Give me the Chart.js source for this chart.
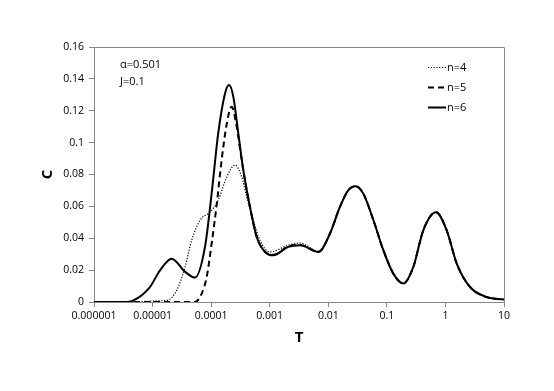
<!DOCTYPE html>
<html>
<head>
<meta charset="utf-8">
<script src="https://cdn.jsdelivr.net/npm/chart.js@4/dist/chart.umd.min.js"></script>
<style>
  html, body { margin: 0; padding: 0; background: #fff; }
  #wrap { width: 554px; height: 391px; }
</style>
</head>
<body>
<div id="wrap"><canvas id="grafico" width="554" height="391"></canvas></div>
<script>
// tick labels
const xTicks = [1e-6, 1e-5, 1e-4, 1e-3, 1e-2, 1e-1, 1, 10];
const xTickLabels = ['0.000001', '0.00001', '0.0001', '0.001', '0.01', '0.1', '1', '10'];
const yTicks = [0, 0.02, 0.04, 0.06, 0.08, 0.1, 0.12, 0.14, 0.16];
const yTickLabels = ['0', '0.02', '0.04', '0.06', '0.08', '0.1', '0.12', '0.14', '0.16'];

// n=4 (pontilhado)
const T4 = [1e-6, 1.74e-5, 2.58e-5, 3.58e-5, 4.66e-5, 6.46e-5, 9.6e-5, 1.32e-4, 1.85e-4, 2.55e-4,
            3.33e-4, 4.05e-4, 5.25e-4, 6.8e-4, 1.01e-3, 2.07e-3, 3.3e-3, 6.8e-3, 1.07e-2, 1.58e-2,
            2.2e-2, 2.94e-2, 3.96e-2, 5.9e-2, 8.7e-2, 0.129, 0.191, 0.283, 0.419, 0.69,
            1.05, 1.56, 2.63, 5.07, 10];
const C4 = [0, 0.001, 0.0073, 0.022, 0.0388, 0.0513, 0.0565, 0.0639, 0.0785, 0.0859,
            0.0785, 0.066, 0.0513, 0.0388, 0.0314, 0.0356, 0.037, 0.0318, 0.043, 0.0597,
            0.0702, 0.0727, 0.068, 0.0513, 0.0325, 0.0178, 0.0116, 0.022, 0.045, 0.0563,
            0.045, 0.0241, 0.0094, 0.0031, 0.0015];

// n=5 (tracejado)
const T5 = [1e-6, 5.3e-5, 6.9e-5, 8.4e-5, 1.02e-4, 1.25e-4, 1.51e-4, 1.85e-4, 2.24e-4, 2.73e-4,
            3.33e-4, 4.05e-4, 4.6e-4, 6.0e-4, 8.3e-4, 1.15e-3, 2.07e-3, 3.3e-3, 6.8e-3, 1.07e-2,
            1.58e-2, 2.2e-2, 2.94e-2, 3.96e-2, 5.9e-2, 8.7e-2, 0.129, 0.191, 0.283, 0.419,
            0.69, 1.05, 1.56, 2.63, 5.07, 10];
const C5 = [0, 0, 0.0053, 0.0157, 0.0367, 0.0618, 0.089, 0.112, 0.1225, 0.11,
            0.089, 0.0702, 0.0597, 0.0408, 0.0316, 0.0296, 0.0348, 0.0358, 0.0315, 0.043,
            0.0597, 0.0702, 0.0727, 0.068, 0.0513, 0.0325, 0.0178, 0.0116, 0.022, 0.045,
            0.0563, 0.045, 0.0241, 0.0094, 0.0031, 0.0015];

// n=6 (linha cheia)
const T6 = [1e-6, 3.16e-6, 4.7e-6, 9.0e-6, 1.34e-5, 2.12e-5, 3.6e-5, 5.3e-5, 7.85e-5, 1.02e-4,
            1.32e-4, 1.73e-4, 2.02e-4, 2.39e-4, 2.91e-4, 3.54e-4, 4.6e-4, 6.0e-4, 8.3e-4, 1.15e-3,
            2.07e-3, 3.3e-3, 6.8e-3, 1.07e-2, 1.58e-2, 2.2e-2, 2.94e-2, 3.96e-2, 5.9e-2, 8.7e-2,
            0.129, 0.191, 0.283, 0.419, 0.69, 1.05, 1.56, 2.63, 5.07, 10];
const C6 = [0, 0, 0.001, 0.0094, 0.0199, 0.0272, 0.0189, 0.0153, 0.0346, 0.068,
            0.1058, 0.131, 0.1361, 0.1288, 0.1058, 0.0827, 0.0597, 0.0408, 0.0314, 0.0293,
            0.0346, 0.0356, 0.0314, 0.043, 0.0597, 0.0702, 0.0727, 0.068, 0.0513, 0.0325,
            0.0178, 0.0116, 0.022, 0.045, 0.0563, 0.045, 0.0241, 0.0094, 0.0031, 0.0015];

const anotacoes = ['\u03b1=0.501', 'J=0.1'];

const fonte = "'Open Sans', 'Noto Sans', sans-serif";
const cinza = '#868686';

function pontos(xs, ys) {
    return xs.map((x, i) => ({ x: x, y: ys[i] }));
}

// borda da área do gráfico + textos + legenda
const extras = {
    id: 'extras',
    afterDraw(chart) {
        const { ctx, chartArea: a } = chart;
        ctx.save();
        ctx.strokeStyle = cinza;
        ctx.lineWidth = 1;
        ctx.beginPath();
        ctx.moveTo(a.left, a.top + 0.5);
        ctx.lineTo(a.right + 0.5, a.top + 0.5);
        ctx.lineTo(a.right + 0.5, a.bottom);
        ctx.stroke();

        ctx.fillStyle = '#000';
        ctx.font = "11px " + fonte;
        ctx.textBaseline = 'middle';
        ctx.textAlign = 'left';
        anotacoes.forEach((t, i) => ctx.fillText(t, a.left + 26, a.top + 18 + i * 16.5));

        chart.data.datasets.forEach((ds, i) => {
            const y = a.top + 20.5 + i * 20;
            ctx.beginPath();
            ctx.strokeStyle = '#000';
            ctx.lineWidth = ds.borderWidth;
            ctx.setLineDash(ds.borderDash || []);
            ctx.moveTo(a.right - 76, y);
            ctx.lineTo(a.right - 58, y);
            ctx.stroke();
            ctx.setLineDash([]);
            ctx.fillText(ds.label, a.right - 57, y);
        });
        ctx.restore();
    }
};

const ctx = document.getElementById('grafico').getContext('2d');
new Chart(ctx, {
    type: 'scatter',
    data: {
        datasets: [
            { label: 'n=4', data: pontos(T4, C4), borderColor: '#000', borderWidth: 1.2, borderDash: [1.2, 1.6] },
            { label: 'n=5', data: pontos(T5, C5), borderColor: '#000', borderWidth: 2, borderDash: [6, 4] },
            { label: 'n=6', data: pontos(T6, C6), borderColor: '#000', borderWidth: 2 }
        ].map(ds => Object.assign(ds, { showLine: true, pointRadius: 0, cubicInterpolationMode: 'monotone' }))
    },
    options: {
        responsive: false,
        animation: false,
        layout: { padding: { top: 47, right: 50, left: 30, bottom: 39 } },
        plugins: { legend: { display: false }, tooltip: { enabled: false } },
        scales: {
            x: {
                type: 'logarithmic',
                min: 1e-6,
                max: 10,
                afterBuildTicks: s => { s.ticks = xTicks.map(v => ({ value: v })); },
                afterFit: s => { s.height = 50; },
                grid: { drawOnChartArea: false, color: cinza, tickLength: 5 },
                border: { color: cinza },
                ticks: {
                    color: '#000', padding: 3, maxRotation: 0, autoSkip: false,
                    font: { family: fonte, size: 10.5 },
                    callback: (v, i) => xTickLabels[i]
                },
                title: {
                    display: true, text: 'T', color: '#000',
                    font: { family: fonte, size: 15, weight: 'bold' },
                    padding: { top: 0, bottom: 5 }
                }
            },
            y: {
                min: 0,
                max: 0.16,
                afterBuildTicks: s => { s.ticks = yTicks.map(v => ({ value: v })); },
                afterFit: s => { s.width = 64; },
                grid: { drawOnChartArea: false, color: cinza, tickLength: 5 },
                border: { color: cinza },
                ticks: {
                    color: '#000', padding: 5,
                    font: { family: fonte, size: 10.5 },
                    callback: (v, i) => yTickLabels[i]
                },
                title: {
                    display: true, text: 'C', color: '#000',
                    font: { family: fonte, size: 15, weight: 'bold' },
                    padding: { top: 9, bottom: 0 }
                }
            }
        }
    },
    plugins: [extras]
});
</script>
</body>
</html>
